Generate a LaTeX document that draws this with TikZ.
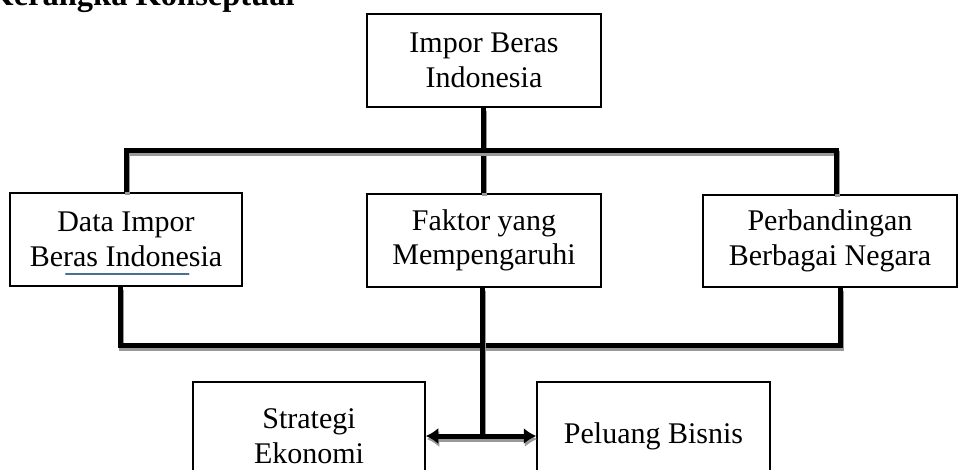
\documentclass[tikz,border=0pt]{standalone}
\usepackage{fontspec}
\setmainfont{Liberation Serif}
\usepackage{xcolor}
\usepackage{tikz}
\usetikzlibrary{positioning}
\usetikzlibrary{calc}
\usetikzlibrary{arrows.meta}
\definecolor{ejaan}{RGB}{74,112,146}

\begin{document}
\begin{tikzpicture}[x=0.4pt, y=-0.4pt, >={Latex[length=5pt,width=6.5pt]},
        kotak/.style={draw, line width=0.6pt, align=center, inner sep=0pt, font=\fontsize{12}{13.8}\selectfont},
        garis/.style={line width=2pt, preaction={draw=black!40, line width=2pt, transform canvas={shift={(0.4pt,-1.2pt)}}}}]
            % Define the frame of the page
            \useasboundingbox (0,0) rectangle (961,469);
            \clip (0,0) rectangle (961,469);
            % Title
            \node[anchor=base west, inner sep=0pt, font=\fontsize{13}{15}\selectfont\bfseries] (judul) at (-12,5) {Kerangka Konseptual};

            % Boxes
            \node[kotak, minimum width=93.6pt, minimum height=37.2pt] (impor) at (484,60.5) {Impor Beras\\Indonesia};
            \node[kotak, minimum width=92.8pt, minimum height=37.2pt] (data) at (126,239.5) {Data Impor\\Beras Indonesia};
            \node[kotak, minimum width=93.6pt, minimum height=37.2pt] (faktor) at (484,240.5) {Faktor yang\\Mempengaruhi};
            \node[kotak, minimum width=101.6pt, minimum height=36.8pt] (banding) at (830,241) {Perbandingan\\Berbagai Negara};
            \node[kotak, minimum width=92.8pt, minimum height=43.2pt] (strategi) at (309,436) {Strategi\\Ekonomi};
            \node[kotak, minimum width=93.2pt, minimum height=43.2pt] (peluang) at (653.5,436) {Peluang Bisnis};

            % Junctions
            \coordinate (hub1) at (483,150);
            \coordinate (hub2) at (482,345);
            \coordinate (pisah) at (482,436);

            % Paths
            \draw[garis] (impor.south -| hub1) -- (faktor.north -| hub1); % Impor -> Faktor
            \draw[garis] (data.north) |- (hub1) -| ([xshift=2.4pt]banding.north); % upper bar
            \draw[garis] ([xshift=-2.4pt]data.south) |- (hub2) -| ([xshift=4pt]banding.south); % lower bar
            \draw[garis] (faktor.south -| pisah) -- (pisah); % Faktor -> split
            \draw[garis, <->] (strategi.east) -- (peluang.west); % Strategi <-> Peluang

            % Spelling mark under Indonesia
            \draw[ejaan, line width=0.9pt, line cap=round] ([shift={(-24pt,5.2pt)}]data.south) -- ([shift={(25pt,5.2pt)}]data.south);
        \end{tikzpicture}
\end{document}
